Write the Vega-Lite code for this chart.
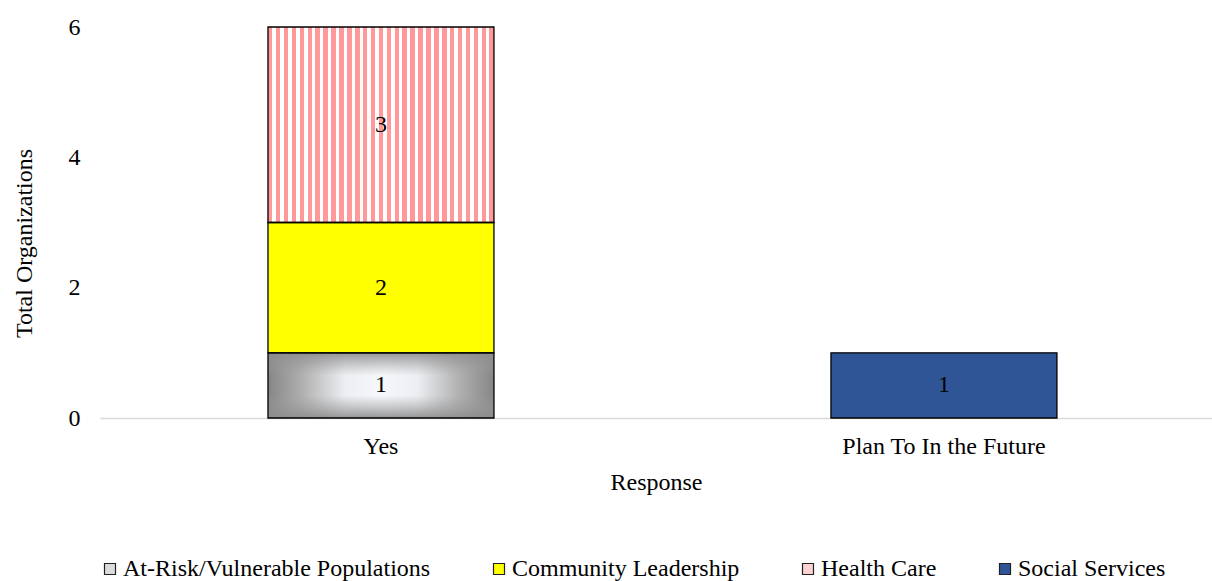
{
  "$schema": "https://vega.github.io/schema/vega-lite/v6.json",
  "width": 1112,
  "height": 391,
  "autosize": {"type": "none"},
  "padding": {"left": 100, "top": 27, "right": 0, "bottom": 163},
  "background": "white",
  "config": {
    "font": "Liberation Serif",
    "view": {"stroke": null},
    "axis": {"labelFont": "Liberation Serif", "titleFont": "Liberation Serif", "labelColor": "black", "titleColor": "black", "titleFontWeight": "normal", "labelFontSize": 24, "titleFontSize": 24, "grid": false, "ticks": false, "labelLimit": 0}
  },
  "data": {
    "values": [
      {"response": "Yes", "category": "At-Risk/Vulnerable Populations", "count": 1},
      {"response": "Yes", "category": "Community Leadership", "count": 2},
      {"response": "Yes", "category": "Health Care", "count": 3},
      {"response": "Plan To In the Future", "category": "Social Services", "count": 1}
    ]
  },
  "transform": [
    {"stack": "count", "groupby": ["response"], "sort": [{"field": "category", "order": "ascending"}], "as": ["y0", "y1"]}
  ],
  "encoding": {
    "x": {
      "field": "response",
      "type": "nominal",
      "sort": ["Yes", "Plan To In the Future"],
      "title": "Response",
      "scale": {"paddingInner": 0.5986, "paddingOuter": 0.2869, "align": 0.52},
      "axis": {"labelAngle": 0, "labelPadding": 16, "titlePadding": 12, "domainColor": "#D9D9D9", "domainWidth": 1.5, "labelLimit": 0}
    }
  },
  "layer": [
    {
      "mark": {"type": "bar"},
      "encoding": {
        "y": {"field": "y0", "type": "quantitative", "title": "Total Organizations", "scale": {"domain": [0, 6], "nice": false},
              "axis": {"values": [0, 2, 4, 6], "format": "d", "domain": false, "labelPadding": 20, "titlePadding": 32, "titleY": 216}},
        "y2": {"field": "y1"},
        "color": {
          "field": "category",
          "type": "nominal",
          "scale": {
            "domain": ["At-Risk/Vulnerable Populations", "Community Leadership", "Health Care", "Social Services"],
            "range": ["#DCDCDC", "#FFFF00", "#FFD3D3", "#2F5597"]
          },
          "legend": {
            "title": null,
            "orient": "none",
            "legendX": -2,
            "legendY": 530,
            "padding": 0,
            "direction": "horizontal",
            "columns": 4,
            "columnPadding": 56,
            "labelFont": "Liberation Serif",
            "labelFontSize": 24,
            "labelColor": "black",
            "labelLimit": 0,
            "labelOffset": 1,
            "symbolType": "square",
            "symbolSize": 121,
            "symbolStrokeColor": "#222222",
            "symbolStrokeWidth": 1.2,
            "symbolOpacity": 1
          }
        }
      }
    },
    {
      "transform": [{"filter": "datum.category === 'At-Risk/Vulnerable Populations'"}],
      "mark": {
        "type": "bar",
        "fill": {
          "gradient": "linear", "x1": 0, "y1": 0, "x2": 1, "y2": 0,
          "stops": [
            {"offset": 0, "color": "#868686"},
            {"offset": 0.15, "color": "#AFAFAF"},
            {"offset": 0.34, "color": "#ECEEF2"},
            {"offset": 0.5, "color": "#F5F7FA"},
            {"offset": 0.66, "color": "#ECEEF2"},
            {"offset": 0.85, "color": "#AFAFAF"},
            {"offset": 1, "color": "#868686"}
          ]
        }
      },
      "encoding": {
        "y": {"field": "y0", "type": "quantitative", "title": "Total Organizations"},
        "y2": {"field": "y1"}
      }
    },
    {
      "transform": [{"filter": "datum.category === 'At-Risk/Vulnerable Populations'"}],
      "mark": {
        "type": "bar",
        "fill": {
          "gradient": "linear", "x1": 0, "y1": 0, "x2": 0, "y2": 1,
          "stops": [
            {"offset": 0, "color": "rgba(140,140,140,0.9)"},
            {"offset": 0.35, "color": "rgba(160,160,160,0)"},
            {"offset": 0.65, "color": "rgba(160,160,160,0)"},
            {"offset": 1, "color": "rgba(140,140,140,0.9)"}
          ]
        }
      },
      "encoding": {
        "y": {"field": "y0", "type": "quantitative", "title": "Total Organizations"},
        "y2": {"field": "y1"}
      }
    },
    {
      "transform": [{"filter": "datum.category === 'Health Care'"}],
      "mark": {
        "type": "bar",
        "fill": {
          "gradient": "linear", "x1": 0, "y1": 0, "x2": 1, "y2": 0,
          "stops": [
            {"offset": 0, "color": "#FF9999"}, {"offset": 0.02, "color": "#FF9999"}, {"offset": 0.02, "color": "#FFFFFF"}, {"offset": 0.035, "color": "#FFFFFF"},
            {"offset": 0.035, "color": "#FF9999"}, {"offset": 0.055, "color": "#FF9999"}, {"offset": 0.055, "color": "#FFFFFF"}, {"offset": 0.07, "color": "#FFFFFF"},
            {"offset": 0.07, "color": "#FF9999"}, {"offset": 0.09, "color": "#FF9999"}, {"offset": 0.09, "color": "#FFFFFF"}, {"offset": 0.105, "color": "#FFFFFF"},
            {"offset": 0.105, "color": "#FF9999"}, {"offset": 0.125, "color": "#FF9999"}, {"offset": 0.125, "color": "#FFFFFF"}, {"offset": 0.14, "color": "#FFFFFF"},
            {"offset": 0.14, "color": "#FF9999"}, {"offset": 0.16, "color": "#FF9999"}, {"offset": 0.16, "color": "#FFFFFF"}, {"offset": 0.175, "color": "#FFFFFF"},
            {"offset": 0.175, "color": "#FF9999"}, {"offset": 0.195, "color": "#FF9999"}, {"offset": 0.195, "color": "#FFFFFF"}, {"offset": 0.21, "color": "#FFFFFF"},
            {"offset": 0.21, "color": "#FF9999"}, {"offset": 0.23, "color": "#FF9999"}, {"offset": 0.23, "color": "#FFFFFF"}, {"offset": 0.245, "color": "#FFFFFF"},
            {"offset": 0.245, "color": "#FF9999"}, {"offset": 0.265, "color": "#FF9999"}, {"offset": 0.265, "color": "#FFFFFF"}, {"offset": 0.28, "color": "#FFFFFF"},
            {"offset": 0.28, "color": "#FF9999"}, {"offset": 0.3, "color": "#FF9999"}, {"offset": 0.3, "color": "#FFFFFF"}, {"offset": 0.315, "color": "#FFFFFF"},
            {"offset": 0.315, "color": "#FF9999"}, {"offset": 0.335, "color": "#FF9999"}, {"offset": 0.335, "color": "#FFFFFF"}, {"offset": 0.35, "color": "#FFFFFF"},
            {"offset": 0.35, "color": "#FF9999"}, {"offset": 0.37, "color": "#FF9999"}, {"offset": 0.37, "color": "#FFFFFF"}, {"offset": 0.385, "color": "#FFFFFF"},
            {"offset": 0.385, "color": "#FF9999"}, {"offset": 0.405, "color": "#FF9999"}, {"offset": 0.405, "color": "#FFFFFF"}, {"offset": 0.42, "color": "#FFFFFF"},
            {"offset": 0.42, "color": "#FF9999"}, {"offset": 0.44, "color": "#FF9999"}, {"offset": 0.44, "color": "#FFFFFF"}, {"offset": 0.455, "color": "#FFFFFF"},
            {"offset": 0.455, "color": "#FF9999"}, {"offset": 0.475, "color": "#FF9999"}, {"offset": 0.475, "color": "#FFFFFF"}, {"offset": 0.49, "color": "#FFFFFF"},
            {"offset": 0.49, "color": "#FF9999"}, {"offset": 0.51, "color": "#FF9999"}, {"offset": 0.51, "color": "#FFFFFF"}, {"offset": 0.525, "color": "#FFFFFF"},
            {"offset": 0.525, "color": "#FF9999"}, {"offset": 0.545, "color": "#FF9999"}, {"offset": 0.545, "color": "#FFFFFF"}, {"offset": 0.56, "color": "#FFFFFF"},
            {"offset": 0.56, "color": "#FF9999"}, {"offset": 0.58, "color": "#FF9999"}, {"offset": 0.58, "color": "#FFFFFF"}, {"offset": 0.595, "color": "#FFFFFF"},
            {"offset": 0.595, "color": "#FF9999"}, {"offset": 0.615, "color": "#FF9999"}, {"offset": 0.615, "color": "#FFFFFF"}, {"offset": 0.63, "color": "#FFFFFF"},
            {"offset": 0.63, "color": "#FF9999"}, {"offset": 0.65, "color": "#FF9999"}, {"offset": 0.65, "color": "#FFFFFF"}, {"offset": 0.665, "color": "#FFFFFF"},
            {"offset": 0.665, "color": "#FF9999"}, {"offset": 0.685, "color": "#FF9999"}, {"offset": 0.685, "color": "#FFFFFF"}, {"offset": 0.7, "color": "#FFFFFF"},
            {"offset": 0.7, "color": "#FF9999"}, {"offset": 0.72, "color": "#FF9999"}, {"offset": 0.72, "color": "#FFFFFF"}, {"offset": 0.735, "color": "#FFFFFF"},
            {"offset": 0.735, "color": "#FF9999"}, {"offset": 0.755, "color": "#FF9999"}, {"offset": 0.755, "color": "#FFFFFF"}, {"offset": 0.77, "color": "#FFFFFF"},
            {"offset": 0.77, "color": "#FF9999"}, {"offset": 0.79, "color": "#FF9999"}, {"offset": 0.79, "color": "#FFFFFF"}, {"offset": 0.805, "color": "#FFFFFF"},
            {"offset": 0.805, "color": "#FF9999"}, {"offset": 0.825, "color": "#FF9999"}, {"offset": 0.825, "color": "#FFFFFF"}, {"offset": 0.84, "color": "#FFFFFF"},
            {"offset": 0.84, "color": "#FF9999"}, {"offset": 0.86, "color": "#FF9999"}, {"offset": 0.86, "color": "#FFFFFF"}, {"offset": 0.875, "color": "#FFFFFF"},
            {"offset": 0.875, "color": "#FF9999"}, {"offset": 0.895, "color": "#FF9999"}, {"offset": 0.895, "color": "#FFFFFF"}, {"offset": 0.91, "color": "#FFFFFF"},
            {"offset": 0.91, "color": "#FF9999"}, {"offset": 0.93, "color": "#FF9999"}, {"offset": 0.93, "color": "#FFFFFF"}, {"offset": 0.945, "color": "#FFFFFF"},
            {"offset": 0.945, "color": "#FF9999"}, {"offset": 0.965, "color": "#FF9999"}, {"offset": 0.965, "color": "#FFFFFF"}, {"offset": 0.98, "color": "#FFFFFF"},
            {"offset": 0.98, "color": "#FF9999"}, {"offset": 1, "color": "#FF9999"}
          ]
        }
      },
      "encoding": {
        "y": {"field": "y0", "type": "quantitative", "title": "Total Organizations"},
        "y2": {"field": "y1"}
      }
    },
    {
      "mark": {"type": "bar", "fillOpacity": 0, "stroke": "black", "strokeWidth": 1.3},
      "encoding": {
        "y": {"field": "y0", "type": "quantitative", "title": "Total Organizations"},
        "y2": {"field": "y1"}
      }
    },
    {
      "transform": [
        {"fold": ["y0", "y1"], "as": ["edge", "pos"]},
        {"aggregate": [{"op": "mean", "field": "pos", "as": "mid"}], "groupby": ["response", "category", "count"]}
      ],
      "mark": {"type": "text", "font": "Liberation Serif", "fontSize": 24, "color": "black", "align": "center", "baseline": "middle"},
      "encoding": {
        "y": {"field": "mid", "type": "quantitative", "title": "Total Organizations"},
        "text": {"field": "count", "type": "quantitative"}
      }
    }
  ]
}
